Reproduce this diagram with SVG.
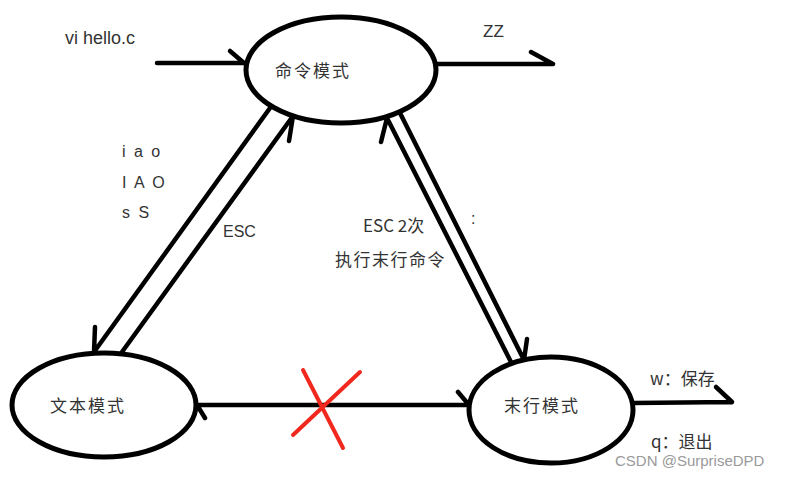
<svg xmlns="http://www.w3.org/2000/svg" width="785" height="477" viewBox="0 0 785 477">
<style>
.node{fill:#fff;stroke:#000;stroke-width:5}
.ln{fill:none;stroke:#000;stroke-width:4.5;stroke-linecap:round;stroke-linejoin:round}
.x{fill:none;stroke:#f0281e;stroke-width:4;stroke-linecap:round}
.t{font-family:"Liberation Sans","Noto Sans CJK SC",sans-serif;fill:#333}
.cj{font-family:"Noto Sans CJK SC",sans-serif;fill:#333;font-size:17px}
</style>
<rect width="785" height="477" fill="#fff"/>
<g id="connectors">
<path class="ln" d="M157,63 L244,63 M230,51 L244,63"/>
<path class="ln" d="M437,64 L553,64 M531,52 L553,64"/>
<path class="ln" d="M270,108 L94,352 M95,327 L94,352"/>
<path class="ln" d="M122,352 L293,116 M293,116 L289,141"/>
<path class="ln" d="M511,362 L387,118 M387,118 L381,142"/>
<path class="ln" d="M400,113 L524,360 M527,339 L524,360"/>
<path class="ln" d="M197,405 L469,405 M197,405 L205,418 M458,392 L469,405"/>
<path class="ln" d="M633,403 L732,402 M716,387 L732,402"/>
<path class="x" d="M303,370 L343,448 M360,372 L293,435"/>
</g>
<g id="cmd">
<ellipse class="node" cx="341" cy="70" rx="95" ry="53"/>
<text class="cj" x="313" y="77" text-anchor="middle" letter-spacing="2">命令模式</text>
</g>
<g id="text">
<ellipse class="node" cx="104" cy="405" rx="92" ry="52"/>
<text class="cj" x="88" y="412" text-anchor="middle" letter-spacing="2">文本模式</text>
</g>
<g id="last">
<ellipse class="node" cx="551" cy="410" rx="82" ry="53"/>
<text class="cj" x="542" y="412" text-anchor="middle" letter-spacing="2">末行模式</text>
</g>
<g id="labels">
<text class="t" x="65" y="44" font-size="18">vi hello.c</text>
<text class="t" x="483" y="37" font-size="17">ZZ</text>
<text class="t" x="122" y="157" font-size="16" letter-spacing="2">i a o</text>
<text class="t" x="122" y="188" font-size="16" letter-spacing="2">I A O</text>
<text class="t" x="122" y="218" font-size="16" letter-spacing="2">s S</text>
<text class="t" x="223" y="237" font-size="16">ESC</text>
<text class="cj" x="363" y="232" font-size="16">ESC 2次</text>
<text class="cj" x="335" y="266" letter-spacing="1.5">执行末行命令</text>
<text class="t" x="471" y="224" font-size="16">:</text>
<text class="cj" x="650" y="385">w：保存</text>
<text class="cj" x="651" y="448">q：退出</text>
<text x="615" y="466" font-family="Liberation Sans,Arial,sans-serif" font-size="15" fill="#9a9a9a">CSDN @SurpriseDPD</text>
</g>
</svg>
